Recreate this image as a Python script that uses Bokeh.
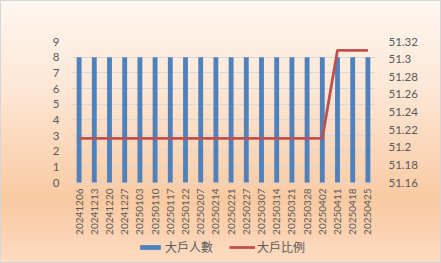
import math
from bokeh.plotting import figure
from bokeh.models import (Range1d, LinearAxis, FixedTicker, CustomJSTickFormatter,
                          Legend, LegendItem, FactorRange, ColumnDataSource)
from bokeh.core.properties import value
from bokeh.embed import file_html
from bokeh.resources import INLINE

dates = ["20241206", "20241213", "20241220", "20241227", "20250103", "20250110",
         "20250117", "20250122", "20250207", "20250214", "20250221", "20250227",
         "20250307", "20250314", "20250321", "20250328", "20250402", "20250411",
         "20250418", "20250425"]
holders = [8] * 20
ratio = [51.21] * 17 + [51.31] * 3
left_ticks = [0, 1, 2, 3, 4, 5, 6, 7, 8, 9]
right_ticks = [51.16, 51.18, 51.2, 51.22, 51.24, 51.26, 51.28, 51.3, 51.32]

FONT = "Lato"
TXT = "#595959"

# layout geometry (pixels)
W, H = 441, 263
TOP, BOTTOM, LEFT, RIGHT = 41, 2, 71, 66
PLOT_H = 141                      # height of the 0..9 area
frame_h = H - TOP - BOTTOM
px_per_unit = PLOT_H / 9.0
ymin = -(frame_h - PLOT_H) / px_per_unit
rmin = 51.16 + ymin * (0.16 / 9.0)
label_y = -6.0 / px_per_unit

src = ColumnDataSource(dict(d=dates, h=holders, r=ratio, ly=[label_y] * len(dates)))

p = figure(width=W, height=H, x_range=FactorRange(*dates), y_range=Range1d(ymin, 9),
           x_axis_location=None, output_backend="svg", toolbar_location=None,
           min_border_left=LEFT, min_border_right=RIGHT, min_border_top=TOP,
           min_border_bottom=BOTTOM)
p.extra_y_ranges = {"r": Range1d(rmin, 51.32)}

p.background_fill_color = None
p.border_fill_color = None
p.outline_line_color = None
p.styles = {
    "background-image": "linear-gradient(180deg, #fef7f0 0%, #fde6d4 35%, #f9caa2 76%, #fbd2b1 88%, #fddcc3 100%)",
    "box-shadow": "inset 0 0 0 1px #d6d6d6",
}

bars = p.vbar(x="d", top="h", width=0.32, source=src, color="#4f81bd", line_color=None)
line = p.line(x="d", y="r", source=src, y_range_name="r", line_color="#c0504d", line_width=2.8)

p.text(x="d", y="ly", text="d", source=src, angle=math.pi / 2,
       text_align="right", text_baseline="middle", text_font=value(FONT),
       text_font_size="10px", text_color=TXT)

p.xgrid.grid_line_color = None
p.ygrid.grid_line_color = "#d9d9d9"
p.ygrid.grid_line_width = 1
p.yaxis.ticker = FixedTicker(ticks=left_ticks)

ax_r = LinearAxis(y_range_name="r", ticker=FixedTicker(ticks=right_ticks),
                  formatter=CustomJSTickFormatter(code="return String(Math.round(tick*100)/100);"))
p.add_layout(ax_r, "right")

for ax in [p.yaxis[0], ax_r]:
    ax.axis_line_color = None
    ax.major_tick_line_color = None
    ax.minor_tick_line_color = None
    ax.major_tick_out = 0
    ax.major_tick_in = 0
    ax.minor_tick_out = 0
    ax.major_label_text_font = FONT
    ax.major_label_text_font_size = "11.5px"
    ax.major_label_text_color = TXT

p.yaxis[0].major_label_standoff = 12
ax_r.major_label_standoff = 13

legend = Legend(items=[LegendItem(label="大戶人數", renderers=[bars]),
                       LegendItem(label="大戶比例", renderers=[line])],
                orientation="horizontal", location=(66, 6),
                background_fill_alpha=0, border_line_color=None,
                label_text_font="Noto Sans CJK TC", label_text_font_size="12px",
                label_text_color=TXT, glyph_width=26, glyph_height=6,
                spacing=16, label_standoff=2, padding=0, margin=0,
                label_height=14)
p.add_layout(legend)

open("out.html", "w").write(file_html(p, INLINE))
